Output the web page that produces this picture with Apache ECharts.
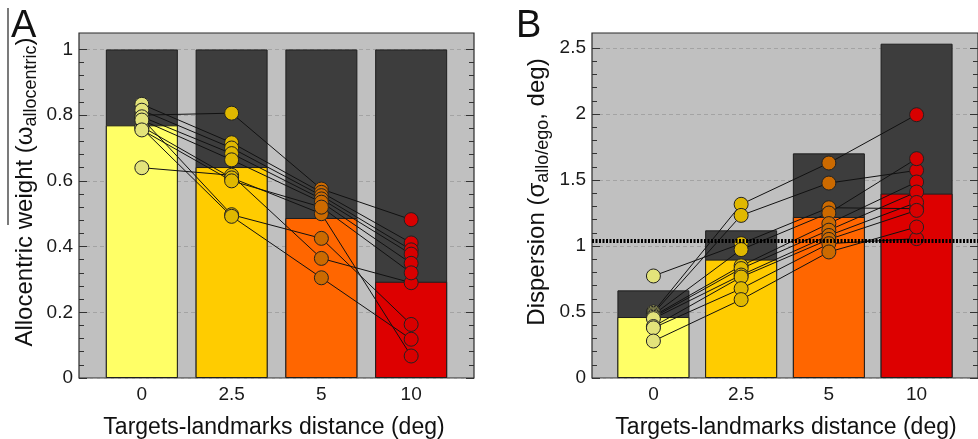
<!DOCTYPE html>
<html><head><meta charset="utf-8">
<script src="https://cdn.jsdelivr.net/npm/echarts@6/dist/echarts.min.js"></script>
<style>html,body{margin:0;padding:0;background:#fff}#c{width:978px;height:439px}</style>
</head><body><div id="c"></div>
<script>
// ---- data ----
const xLabels = ['0', '2.5', '5', '10'];
const barColors = ['#ffff66', '#ffcc00', '#ff6600', '#dd0000'];
const dotColors = ['#e3e37a', '#e0b800', '#cc6a00', '#d80000'];

// Panel A: allocentric weight
const aBarMean = [0.769, 0.642, 0.487, 0.293];
const aBarTotal = [1, 1, 1, 1];
// subject values per distance (same subject order in each array)
const aAt0  = [0.800, 0.640, 0.790, 0.760, 0.765, 0.833, 0.815, 0.795, 0.785, 0.755];
const aAt25 = [0.806, 0.617, 0.497, 0.492, 0.609, 0.716, 0.700, 0.683, 0.664, 0.600];
const aAt5  = [0.575, 0.364, 0.425, 0.305, 0.500, 0.565, 0.555, 0.545, 0.535, 0.520];
const aAt10 = [0.482, 0.290, 0.163, 0.118, 0.067, 0.411, 0.390, 0.377, 0.349, 0.320];

// Panel B: dispersion
const bBarMean = [0.462, 0.897, 1.220, 1.397];
const bBarUpper = [0.664, 1.119, 1.702, 2.533];
const bThreshold = 1.038;
const bAt0  = [0.773, 0.500, 0.490, 0.480, 0.470, 0.460, 0.450, 0.390, 0.380, 0.280];
const bAt25 = [1.018, 1.316, 1.232, 0.973, 0.850, 0.829, 0.780, 0.765, 0.677, 0.594];
const bAt5  = [1.290, 1.629, 1.477, 1.250, 1.170, 1.120, 1.080, 1.050, 1.018, 0.955];
const bAt10 = [1.283, 1.995, 1.573, 1.662, 1.485, 1.409, 1.330, 1.270, 1.056, 1.144];

// ---- layout ----
const FONT = 'Liberation Sans, Arial, Helvetica, sans-serif';
const plotTop = 33, plotBottomPx = 378, plotH = plotBottomPx - plotTop, plotW = 395;
const aMax = 1.05, aTickMax = 1;
const bMax = 2.614, bTickMax = 2.5;
const xMin = -0.7, xMax = 3.7;

function tickGrid(left, max, tickMax) {
  const h = plotH / max * tickMax;
  return { left: left, width: plotW, top: plotBottomPx - h, height: h };
}

function tickAxis(gridIndex, tickMax, interval, side, showLabel) {
  return {
    type: 'value', gridIndex: gridIndex, position: side, min: 0, max: tickMax, interval: interval,
    axisLine: { show: false, onZero: false },
    axisTick: { show: true, inside: true, length: 8, lineStyle: { color: '#333', width: 1 } },
    minorTick: { show: true, splitNumber: 5, length: 5, lineStyle: { color: '#333', width: 1 } },
    splitLine: { show: showLabel, lineStyle: { color: '#a3a3a3', type: [4, 3], width: 1 } },
    axisLabel: { show: showLabel, fontSize: 19, color: '#1a1a1a', margin: 6, fontFamily: FONT }
  };
}

function xMain(gridIndex) {
  return {
    type: 'value', gridIndex: gridIndex, min: xMin, max: xMax, position: 'bottom',
    axisLine: { show: false, onZero: false }, axisTick: { show: false }, splitLine: { show: false },
    axisLabel: { show: true, customValues: [0, 1, 2, 3], formatter: v => xLabels[Math.round(v)],
      fontSize: 19, color: '#1a1a1a', margin: 7, fontFamily: FONT }
  };
}
function xHidden(gridIndex) {
  return { type: 'value', gridIndex: gridIndex, min: xMin, max: xMax, show: false, axisLine: { onZero: false } };
}

function barSeries(xi, yi, means, tops) {
  const out = [];
  out.push({
    type: 'bar', xAxisIndex: xi, yAxisIndex: yi, barWidth: 72, barGap: '-100%', z: 2,
    data: tops.map((v, i) => [i, v]),
    itemStyle: { color: '#3d3d3d', borderColor: '#1e1e1e', borderWidth: 1 },
    silent: true
  });
  out.push({
    type: 'bar', xAxisIndex: xi, yAxisIndex: yi, barWidth: 72, barGap: '-100%', z: 2,
    data: means.map((v, i) => ({ value: [i, v], itemStyle: { color: barColors[i] } })),
    itemStyle: { borderColor: '#1e1e1e', borderWidth: 1 },
    silent: true
  });
  return out;
}

function subjectSeries(xi, yi, c0, c1, c2, c3) {
  const out = [];
  for (let s = 0; s < c0.length; s++) {
    const vals = [c0[s], c1[s], c2[s], c3[s]];
    out.push({
      type: 'line', xAxisIndex: xi, yAxisIndex: yi, z: 4, silent: true,
      symbol: 'circle', symbolSize: 14, showAllSymbol: true,
      lineStyle: { color: '#111', width: 1 },
      itemStyle: { borderColor: '#222', borderWidth: 1 },
      emphasis: { disabled: true },
      data: vals.map((v, i) => ({ value: [i, v], itemStyle: { color: dotColors[i], borderColor: '#222', borderWidth: 1 } }))
    });
  }
  return out;
}

const series = [].concat(
  barSeries(0, 0, aBarMean, aBarTotal),
  barSeries(2, 3, bBarMean, bBarUpper),
  [{
    type: 'line', xAxisIndex: 2, yAxisIndex: 3, z: 3, silent: true, data: [],
    markLine: { silent: true, symbol: 'none', label: { show: false },
      lineStyle: { color: '#000', width: 4, type: [2, 1.5] },
      data: [{ yAxis: bThreshold }] }
  }],
  subjectSeries(0, 0, aAt0, aAt25, aAt5, aAt10),
  subjectSeries(2, 3, bAt0, bAt25, bAt5, bAt10)
);

const gA = tickGrid(79, aMax, aTickMax);
const gB = tickGrid(592, bMax, bTickMax);

const option = {
  animation: false,
  backgroundColor: '#ffffff',
  textStyle: { fontFamily: FONT },
  grid: [
    { left: 79, top: plotTop, width: plotW, height: plotH, show: true, backgroundColor: '#c0c0c0', borderColor: '#2a2a2a', borderWidth: 1.2 },
    gA,
    { left: 592, top: plotTop, width: plotW, height: plotH, show: true, backgroundColor: '#c0c0c0', borderColor: '#2a2a2a', borderWidth: 1.2 },
    gB
  ],
  xAxis: [xMain(0), xHidden(1), xMain(2), xHidden(3)],
  yAxis: [
    { type: 'value', gridIndex: 0, min: 0, max: aMax, show: false, axisLine: { onZero: false } },
    tickAxis(1, aTickMax, 0.2, 'left', true),
    tickAxis(1, aTickMax, 0.2, 'right', false),
    { type: 'value', gridIndex: 2, min: 0, max: bMax, show: false, axisLine: { onZero: false } },
    tickAxis(3, bTickMax, 0.5, 'left', true),
    tickAxis(3, bTickMax, 0.5, 'right', false)
  ],
  graphic: [
    { type: 'text', x: 11, y: 27, style: { text: 'A', fontSize: 38, fontFamily: FONT, fill: '#111', align: 'left', verticalAlign: 'middle' } },
    { type: 'text', x: 516, y: 27, style: { text: 'B', fontSize: 38, fontFamily: FONT, fill: '#111', align: 'left', verticalAlign: 'middle' } },
    { type: 'line', shape: { x1: 8, y1: 8, x2: 8, y2: 225 }, style: { stroke: '#222', lineWidth: 1.2 } },
    { type: 'text', x: 25, y: 192, rotation: Math.PI / 2,
      style: { text: '{m|Allocentric weight (ω}{s|allocentric}{m|)}', align: 'center', verticalAlign: 'middle', fill: '#111',
        rich: { m: { fontSize: 24, fontFamily: FONT, fill: '#111', lineHeight: 30 },
                s: { fontSize: 18, fontFamily: FONT, fill: '#111', verticalAlign: 'bottom', lineHeight: 18 } } } },
    { type: 'text', x: 537, y: 192, rotation: Math.PI / 2,
      style: { text: '{m|Dispersion (σ}{s|allo/ego}{m|, deg)}', align: 'center', verticalAlign: 'middle', fill: '#111',
        rich: { m: { fontSize: 24, fontFamily: FONT, fill: '#111', lineHeight: 30 },
                s: { fontSize: 18, fontFamily: FONT, fill: '#111', verticalAlign: 'bottom', lineHeight: 18 } } } },
    { type: 'text', x: 274, y: 428, style: { text: 'Targets-landmarks distance (deg)', fontSize: 23, fontFamily: FONT, fill: '#111', align: 'center', verticalAlign: 'middle' } },
    { type: 'text', x: 786, y: 428, style: { text: 'Targets-landmarks distance (deg)', fontSize: 23, fontFamily: FONT, fill: '#111', align: 'center', verticalAlign: 'middle' } }
  ],
  series: series
};

const chart = echarts.init(document.getElementById('c'), null, { renderer: 'canvas' });
chart.setOption(option);
</script>
</body></html>
